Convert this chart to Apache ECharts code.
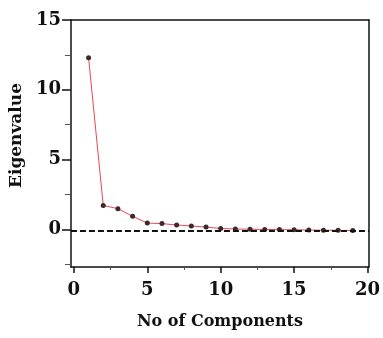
<!DOCTYPE html>
<html>
<head>
<meta charset="utf-8">
<script src="https://cdn.jsdelivr.net/npm/echarts@6/dist/echarts.min.js"></script>
<style>
  html, body { margin: 0; padding: 0; background: #fff; }
  #chart { width: 383px; height: 338px; }
</style>
</head>
<body>
<div id="chart"></div>
<script>
// scree plot data
const components = [1, 2, 3, 4, 5, 6, 7, 8, 9, 10, 11, 12, 13, 14, 15, 16, 17, 18, 19];
const eigenvalues = [12.3, 1.71, 1.48, 0.93, 0.45, 0.41, 0.31, 0.24, 0.16, 0.06,
  0.02, 0.01, -0.01, -0.02, -0.03, -0.05, -0.06, -0.07, -0.09];
const refLine = -0.12;

// tick labels
const xMajor = [0, 5, 10, 15, 20];
const xMinor = [2.5, 7.5, 12.5, 17.5];
const yMajor = [0, 5, 10, 15];
const yMinor = [-2.5, 2.5, 7.5, 12.5];

const serif = "DejaVu Serif";
const black = "#111";

const chart = echarts.init(document.getElementById("chart"));

const frameAxis = {
  axisLine: { show: true, onZero: false, lineStyle: { color: black, width: 1.5 } },
  axisTick: { show: false },
  axisLabel: { show: false },
  splitLine: { show: false }
};

const option = {
  animation: false,
  grid: { left: 68, right: 6, top: 20, bottom: 71 },
  xAxis: [
    {
      type: "value",
      min: -0.2,
      max: 20.1,
      position: "bottom",
      axisLine: { onZero: false, lineStyle: { color: black, width: 1.5 } },
      axisTick: { customValues: xMajor, length: 6, lineStyle: { color: black, width: 1.5 } },
      axisLabel: {
        customValues: xMajor,
        margin: 14,
        color: black,
        fontFamily: serif,
        fontWeight: "bold",
        fontSize: 18
      },
      splitLine: { show: false },
      name: "No of Components",
      nameLocation: "middle",
      nameGap: 47,
      nameTextStyle: { color: black, fontFamily: serif, fontWeight: "bold", fontSize: 16 }
    },
    {
      type: "value",
      min: -0.2,
      max: 20.1,
      position: "bottom",
      axisLine: { show: false, onZero: false },
      axisTick: { customValues: xMinor, length: 3, lineStyle: { color: "#555", width: 1 } },
      axisLabel: { show: false },
      splitLine: { show: false }
    },
    Object.assign({ type: "value", min: -0.2, max: 20.1, position: "top" }, frameAxis)
  ],
  yAxis: [
    {
      type: "value",
      min: -2.7,
      max: 15,
      position: "left",
      axisLine: { show: true, onZero: false, lineStyle: { color: black, width: 1.5 } },
      axisTick: { show: true, customValues: yMajor, length: 9, lineStyle: { color: black, width: 1.5 } },
      axisLabel: {
        customValues: yMajor,
        margin: 10,
        padding: [0, 0, 8, 0],
        color: black,
        fontFamily: serif,
        fontWeight: "bold",
        fontSize: 18
      },
      splitLine: { show: false },
      name: "Eigenvalue",
      nameLocation: "middle",
      nameRotate: 90,
      nameGap: 38,
      nameTextStyle: {
        color: black,
        fontFamily: serif,
        fontWeight: "bold",
        fontSize: 17,
        padding: [0, 0, 0, 16]
      }
    },
    {
      type: "value",
      min: -2.7,
      max: 15,
      position: "left",
      axisLine: { show: false, onZero: false },
      axisTick: { show: true, customValues: yMinor, length: 6, lineStyle: { color: "#555", width: 1 } },
      axisLabel: { show: false },
      splitLine: { show: false }
    },
    Object.assign({ type: "value", min: -2.7, max: 15, position: "right" }, frameAxis)
  ],
  series: [
    {
      type: "line",
      xAxisIndex: 0,
      yAxisIndex: 0,
      data: components.map((c, i) => [c, eigenvalues[i]]),
      symbol: "circle",
      symbolSize: 5,
      lineStyle: { color: "#ee4455", width: 1 },
      itemStyle: { color: "#3a2a2c" },
      markLine: {
        silent: true,
        symbol: "none",
        label: { show: false },
        lineStyle: { color: "#111", type: [6, 3], width: 2 },
        data: [{ yAxis: refLine }]
      },
      z: 3
    }
  ]
};

chart.setOption(option);
</script>
</body>
</html>
